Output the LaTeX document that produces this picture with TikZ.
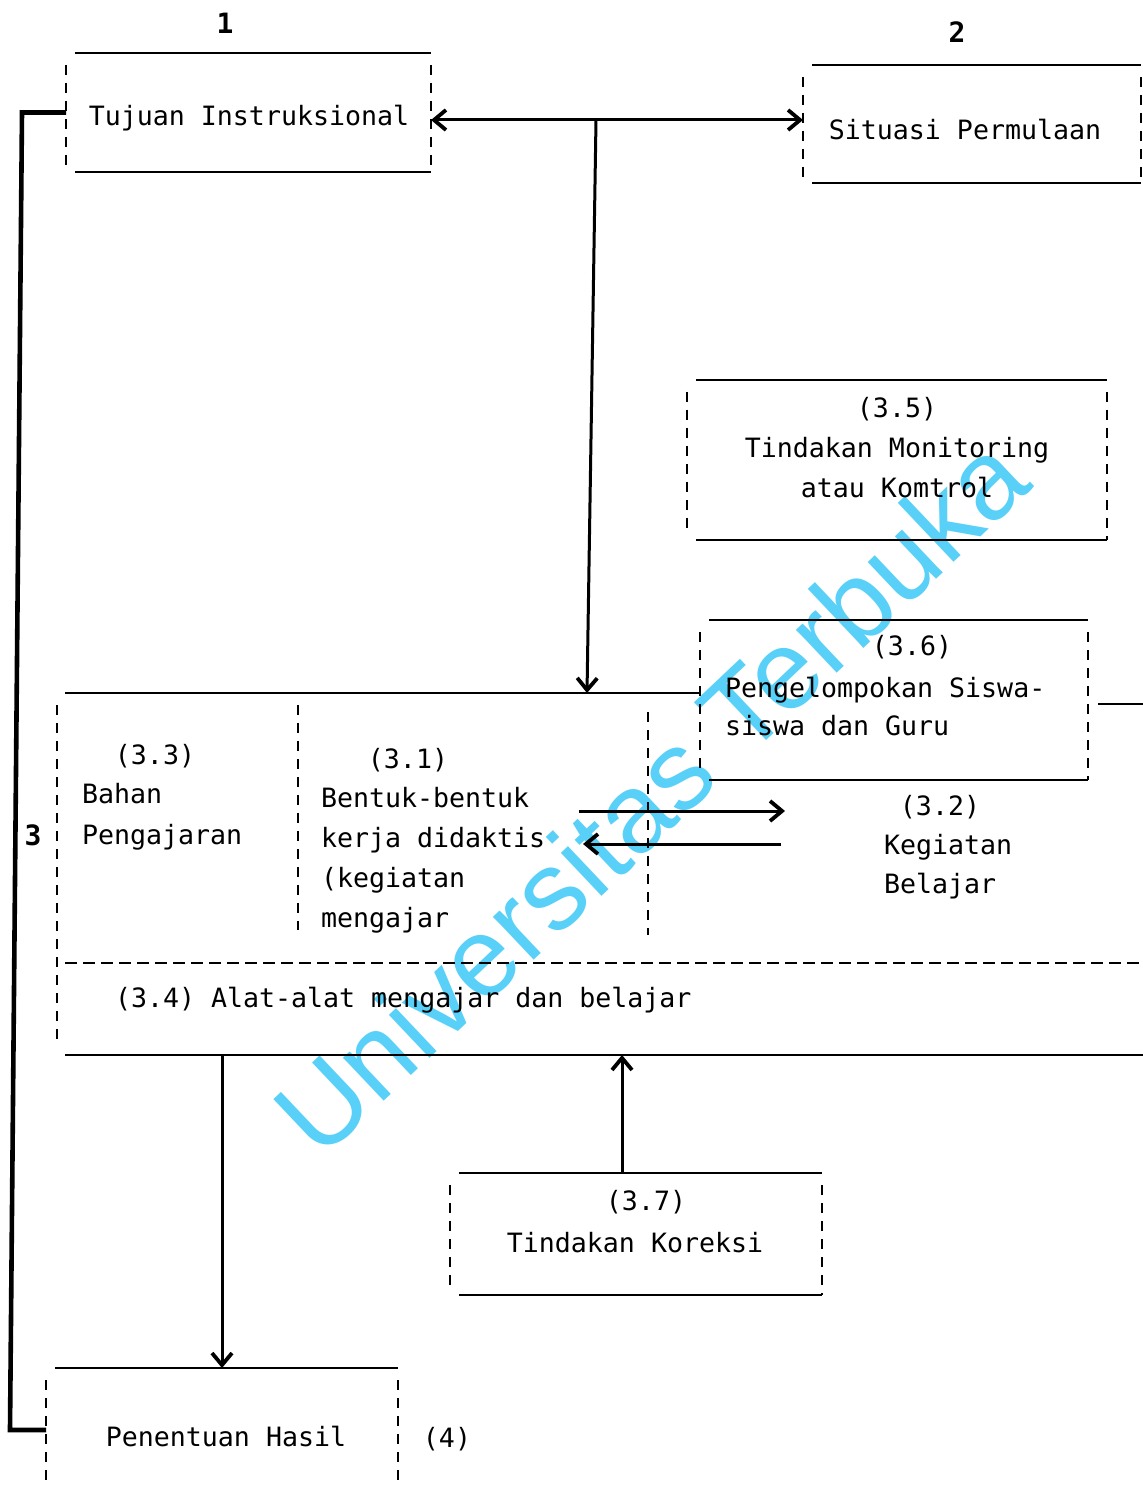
\documentclass[tikz,border=0pt]{standalone}
\usepackage{fontspec}
\newfontfamily\tw{DejaVu Sans Mono}
\newfontfamily\wmfont{Liberation Sans}
\usetikzlibrary{arrows.meta}
\definecolor{wm}{RGB}{88,208,248}
\newcommand\myfrm[1]{%
  \draw[frameline] ([xshift=4.5pt]#1.north west) -- (#1.north east);
  \draw[frameline] ([xshift=4.5pt]#1.south west) -- (#1.south east);
  \draw[sideline] ([yshift=-6pt]#1.north west) -- ([yshift=3pt]#1.south west);
  \draw[sideline] ([yshift=-6pt]#1.north east) -- (#1.south east);}
\begin{document}
\begin{tikzpicture}[x=0.5pt,y=-0.5pt,
  every node/.style={font=\tw\fontsize{13.3pt}{20pt}\selectfont, inner sep=0pt, outer sep=0pt},
  frameline/.style={line width=0.9pt},
  sideline/.style={line width=1pt, dash pattern=on 5pt off 4pt},
  divline/.style={line width=1.2pt, dash pattern=on 6pt off 3pt},
  tip/.tip={Straight Barb[length=6pt,width=10pt,line width=1.9pt]},
  arr/.style={line width=1.5pt, -tip},
  darr/.style={line width=1.5pt, tip-tip},
  fb/.style={line width=2.3pt, line join=miter},
  lbl/.style={font=\tw\bfseries\fontsize{14pt}{16pt}\selectfont}
]
\fill[white] (0,0) rectangle (1143,1486);
\useasboundingbox (0,0) rectangle (1143,1486);

% watermark
\node[font=\wmfont\fontsize{56pt}{60pt}\selectfont, text=wm, rotate=43.4] (wmk) at (650,795) {Universitas Terbuka};

% boxes
\node[minimum width=182.5pt, minimum height=59.5pt] (b1) at (248.5,112.5) {};
\node[minimum width=169pt, minimum height=59pt] (b2) at (972,124) {};
\node[minimum width=210pt, minimum height=80pt] (b35) at (897,460) {};
\node[minimum width=194pt, minimum height=80pt] (b36) at (894,700) {};
\node[minimum width=186pt, minimum height=61pt] (b37) at (636,1234) {};
\node[minimum width=176pt, minimum height=62pt] (b4) at (222,1430) {};
\node[minimum width=543pt, minimum height=181pt] (b3) at (600,874) {};

\myfrm{b1}
\myfrm{b2}
\myfrm{b35}
\myfrm{b36}
\myfrm{b37}
\myfrm{b4}

% big box 3
\draw[frameline] ([xshift=4pt]b3.north west) -- (b3.north -| b36.west);
\draw[frameline] (1098,704) -- (1143,704);
\draw[frameline] ([xshift=4pt]b3.south west) -- (b3.south east);
\draw[sideline] ([yshift=-6pt]b3.north west) -- ([yshift=5pt]b3.south west);
\draw[divline] (65,963) -- (1143,963);
\draw[sideline] (298,705) -- (298,930);
\draw[sideline] (648,712) -- (648,935);

% connectors
\coordinate (j) at (596,120);
\draw[darr] (b1.east |- j) -- (b2.west |- j);
\coordinate (jd) at (587,0);
\draw[arr] (j) -- (jd |- b3.north);
\coordinate (r1) at (579,811);
\coordinate (r2) at (785,811);
\coordinate (l1) at (781,844);
\coordinate (l2) at (583,844);
\draw[arr] (r1) -- (r2);
\draw[arr] (l1) -- (l2);
\coordinate (k) at ([xshift=-7pt]b37.north);
\draw[arr] (k) -- (k |- b3.south);
\draw[arr] (b3.south -| b4.north) -- (b4.north);
\draw[fb] (b1.west) -- ([xshift=-22pt]b1.west) -- ([xshift=-18pt]b4.west) -- (b4.west);

% texts
\node (t1) at (249,118) {Tujuan Instruksional};
\node (t2) at (965,130) {Situasi Permulaan};
\node[align=center] (t35) at (897,448) {(3.5)\\Tindakan Monitoring\\atau Komtrol};
\node (t36a) at (912,647) {(3.6)};
\node[align=left, anchor=west, font=\tw\fontsize{13.3pt}{19pt}\selectfont] (t36b) at (725,707) {Pengelompokan Siswa-\\siswa dan Guru};
\node (t33a) at (155,756) {(3.3)};
\node[align=left, anchor=west, font=\tw\fontsize{13.3pt}{20.5pt}\selectfont] (t33b) at (82,817) {Bahan\\Pengajaran};
\node (t31a) at (408,760) {(3.1)};
\node[align=left, anchor=west] (t31b) at (321,860) {Bentuk-bentuk\\kerja didaktis\\(kegiatan\\mengajar};
\node (t32a) at (940,807) {(3.2)};
\node[align=left, anchor=west, font=\tw\fontsize{13.3pt}{19.5pt}\selectfont] (t32b) at (884,867) {Kegiatan\\Belajar};
\node[anchor=west] (t34) at (115,1000) {(3.4) Alat-alat mengajar dan belajar};
\node (t37a) at (646,1202) {(3.7)};
\node (t37b) at (635,1243) {Tindakan Koreksi};
\node (t4) at (226,1436) {Penentuan Hasil};
\node (t4n) at (447,1439) {(4)};
\node[lbl] (n1) at (225,23) {1};
\node[lbl] (n2) at (957,32) {2};
\node[lbl] (n3) at (33,835) {3};
\end{tikzpicture}
\end{document}
